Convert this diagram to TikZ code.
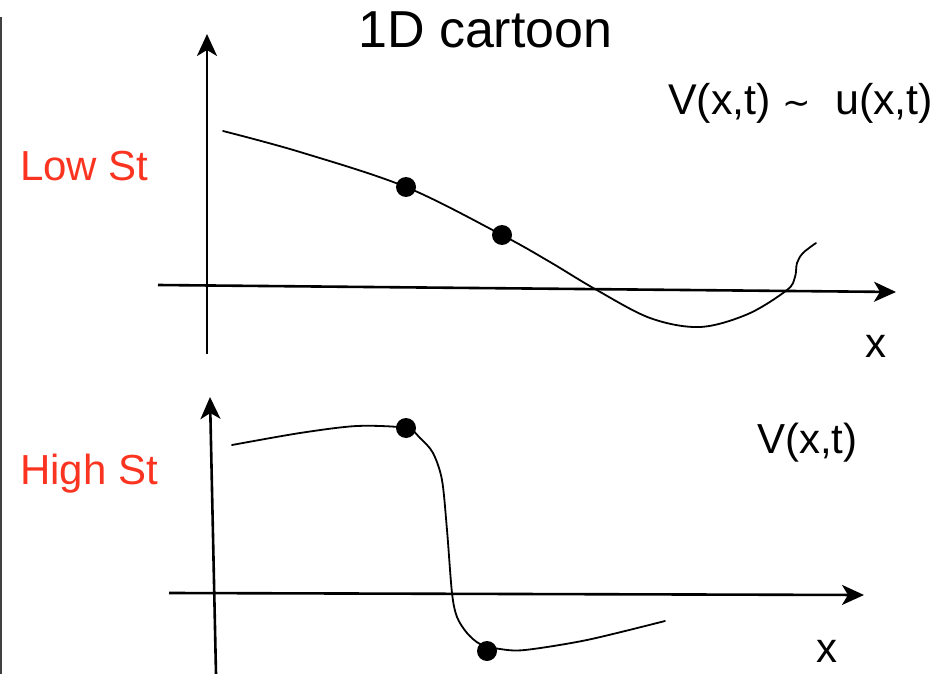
\documentclass[tikz,border=0pt]{standalone}
\usepackage{fontspec}
\setmainfont{Liberation Sans}
\newfontfamily\symfont{DejaVu Sans}
\usepackage{xcolor}
\usetikzlibrary{arrows.meta}

\definecolor{stred}{RGB}{250,52,32}

\begin{document}
\begin{tikzpicture}[
    x=1pt, y=-1pt,
    axis/.style={line width=2.6pt, -{Stealth[length=22pt, width=20pt, inset=6pt]}},
    curve/.style={line width=1.8pt, line cap=round},
    dot/.style={circle, fill=black, inner sep=0pt, minimum size=20pt},
    lab/.style={font=\fontsize{42}{42}\selectfont, inner sep=0pt, anchor=base west},
    stlab/.style={lab, text=stred}
  ]
  \useasboundingbox (0,0) rectangle (943,674);

  % frame line on the left
  \coordinate (f0) at (1,17);
  \coordinate (f1) at (1,674);
  \draw[line width=1.5pt, black!75] (f0) -- (f1);

  % title
  \node[lab, font=\fontsize{52}{52}\selectfont] (title) at (358,48) {1D cartoon};

  % Low St: axes
  \coordinate (ty0) at (207,354);
  \coordinate (ty1) at (207,34);
  \coordinate (tx0) at (158,285);
  \coordinate (tx1) at (896,292);
  \draw[axis] (ty0) -- (ty1);
  \draw[axis] (tx0) -- (tx1);
  \node[stlab] (lowst) at (20,181) {Low St};
  \node[lab, font=\fontsize{43}{43}\selectfont] (vu) at (668,115)
    {V(x,t) {\symfont\fontsize{34}{34}\selectfont ∼}\ \ u(x,t)};
  \node[lab] (xtop) at (865,357) {x};

  % Low St: smooth profile
  \coordinate (ld1) at (406,187);
  \coordinate (ld2) at (502,235);
  \draw[curve] plot[smooth, tension=0.55] coordinates {
    (223,131) (300,152) (ld1) (ld2) (550,262) (595,289) (650,318)
    (700,327) (748,314) (787,290) (795,277) (797,263) (803,253) (816,243)};
  \node[dot] (lowa) at (ld1) {};
  \node[dot] (lowb) at (ld2) {};

  % High St: axes
  \coordinate (by0) at (216,674);
  \coordinate (by1) at (210,397);
  \coordinate (bx0) at (169,593);
  \coordinate (bx1) at (864,595);
  \draw[axis] (by0) -- (by1);
  \draw[axis] (bx0) -- (bx1);
  \node[stlab] (highst) at (20,484) {High St};
  \node[lab] (vonly) at (757,453) {V(x,t)};
  \node[lab] (xbot) at (816,662) {x};

  % High St: steep front
  \coordinate (hd1) at (406,428);
  \coordinate (hd2) at (487,651);
  \draw[curve] plot[smooth, tension=0.5] coordinates {
    (232,445) (300,433) (357,426) (hd1) (420,438) (433,453) (442,480)
    (447,530) (452,593) (457,617) (467,633) (480,644) (500,649) (525,650)
    (587,640) (665,621)};
  \node[dot] (higha) at (hd1) {};
  \node[dot] (highb) at (hd2) {};
\end{tikzpicture}
\end{document}
